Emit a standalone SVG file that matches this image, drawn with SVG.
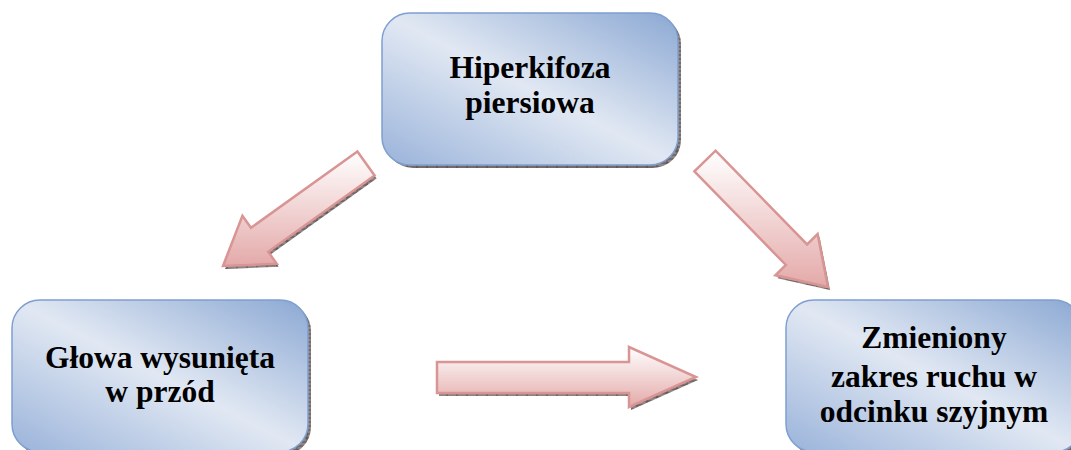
<svg xmlns="http://www.w3.org/2000/svg" width="1071" height="450" viewBox="0 0 1071 450">
  <defs>
    <linearGradient id="boxFill" x1="1" y1="0" x2="0" y2="1">
      <stop offset="0" stop-color="#8ba8d3"/>
      <stop offset="0.5" stop-color="#e1e8f3"/>
      <stop offset="1" stop-color="#9ab3da"/>
    </linearGradient>
    <linearGradient id="arrowFill" x1="0" y1="0" x2="0" y2="1">
      <stop offset="0" stop-color="#ffffff"/>
      <stop offset="1" stop-color="#e4a9a9"/>
    </linearGradient>
    <pattern id="hatch" width="10" height="4" patternUnits="userSpaceOnUse">
      <rect width="10" height="4" fill="#8f8585"/>
      <path d="M0 2H10M5 0V4" stroke="#4a4040" stroke-width="0.8"/>
    </pattern>
    <symbol id="box" overflow="visible">
      <rect x="3" y="3" width="296" height="152" rx="28" fill="url(#hatch)"/>
      <rect x="0" y="0" width="296" height="152" rx="28" fill="url(#boxFill)" stroke="#7f9fd0" stroke-width="1.5"/>
    </symbol>
  </defs>
  <style>
    .label { font-weight: bold; font-size: 31.5px; fill: #000; text-anchor: middle; }
    .arrow { fill: url(#arrowFill); stroke: #d99494; stroke-width: 2.5; stroke-linejoin: miter; }
    .shadow { fill: url(#hatch); }
  </style>

  <!-- connectors -->
  <g id="connectors">
    <g id="arrow-top-left">
      <polygon class="shadow" transform="translate(2,3)" points="357.4,151.5 251,227.8 242.4,215.8 223,266 276.8,263.8 268.2,251.8 374.6,175.5"/>
      <polygon class="arrow" points="357.4,151.5 251,227.8 242.4,215.8 223,266 276.8,263.8 268.2,251.8 374.6,175.5"/>
    </g>
    <g id="arrow-top-right">
      <polygon class="shadow" transform="translate(2,3)" points="694.4,171.3 785.9,265 775.4,275.3 828,287 817.6,234.1 807.1,244.4 715.6,150.7"/>
      <polygon class="arrow" points="694.4,171.3 785.9,265 775.4,275.3 828,287 817.6,234.1 807.1,244.4 715.6,150.7"/>
    </g>
    <g id="arrow-bottom">
      <polygon class="shadow" transform="translate(2,3)" points="437,362 629,362 629,347 696,377 629,407 629,393 437,393"/>
      <polygon class="arrow" points="437,362 629,362 629,347 696,377 629,407 629,393 437,393"/>
    </g>
  </g>

  <!-- nodes -->
  <g font-family="Liberation Serif, DejaVu Serif, serif">
    <g id="node-hiperkifoza">
      <use href="#box" x="382" y="13"/>
      <text class="label" x="530" y="78">Hiperkifoza</text>
      <text class="label" x="530" y="113">piersiowa</text>
    </g>
    <g id="node-glowa">
      <use href="#box" x="12" y="300"/>
      <text class="label" x="160" y="368">Głowa wysunięta</text>
      <text class="label" x="160" y="402">w przód</text>
    </g>
    <g id="node-zakres">
      <use href="#box" x="786" y="300"/>
      <text class="label" x="934" y="348">Zmieniony</text>
      <text class="label" x="934" y="387">zakres ruchu w</text>
      <text class="label" x="934" y="422">odcinku szyjnym</text>
    </g>
  </g>
</svg>
